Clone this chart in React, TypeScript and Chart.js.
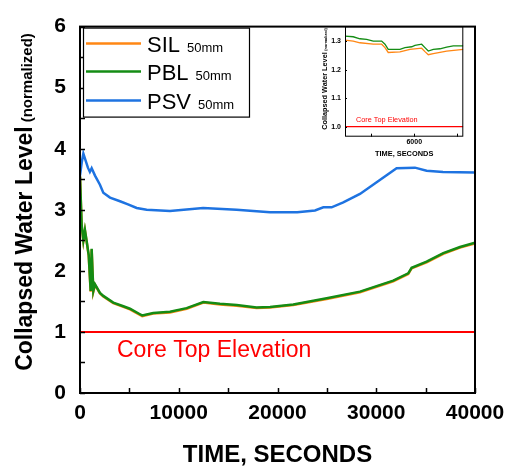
import React, { useEffect, useRef } from 'react';
import { Chart, registerables } from 'chart.js';
Chart.register(...registerables);

const FONT = '"Liberation Sans", Arial, Helvetica, sans-serif';

// ---------- main chart data ----------
const pblTime = [0, 170, 340, 500, 680, 880, 1080, 1180, 1350, 1520, 2020, 2360, 3370, 4390, 5060, 6070, 6300, 7420, 9110, 10800, 12490, 14170, 15870, 17890, 19240, 21600, 24980, 28350, 31720, 33240, 33580, 35100, 36790, 38480, 40000];
const pblLevel = [3.55, 2.75, 2.5, 2.67, 2.48, 2.26, 1.67, 2.36, 1.67, 1.78, 1.64, 1.59, 1.48, 1.42, 1.38, 1.29, 1.27, 1.31, 1.33, 1.39, 1.49, 1.46, 1.44, 1.4, 1.41, 1.45, 1.55, 1.66, 1.84, 1.96, 2.05, 2.15, 2.29, 2.39, 2.46];
const silTime = pblTime;
const silLevel = [3.54, 2.74, 2.49, 2.66, 2.47, 2.25, 1.66, 2.35, 1.66, 1.77, 1.63, 1.58, 1.47, 1.41, 1.37, 1.28, 1.26, 1.3, 1.32, 1.38, 1.48, 1.45, 1.43, 1.39, 1.4, 1.44, 1.54, 1.65, 1.83, 1.95, 2.04, 2.14, 2.28, 2.38, 2.45];
const psvTime = [0, 170, 340, 800, 1000, 1180, 1520, 2020, 2360, 3040, 4050, 4860, 5740, 6750, 9110, 12470, 15860, 19240, 22000, 23800, 24640, 25480, 26660, 28350, 30040, 32060, 33920, 35100, 36760, 40000];
const psvLevel = [3.56, 3.77, 3.92, 3.69, 3.62, 3.68, 3.56, 3.41, 3.28, 3.2, 3.14, 3.09, 3.03, 3.0, 2.98, 3.03, 3.0, 2.96, 2.96, 2.99, 3.04, 3.04, 3.12, 3.26, 3.45, 3.68, 3.69, 3.64, 3.62, 3.61];
const coreTime = [0, 40000];
const coreLevel = [1, 1];

const legendNames = ['SIL', 'PBL', 'PSV'];
const legendSuffix = '50mm';
const coreLabel = 'Core Top Elevation';
const yTitle = 'Collapsed Water Level';
const yTitleSmall = '(normalized)';
const xTitle = 'TIME, SECONDS';

// ---------- inset data ----------
const insetPblTime = [4388, 4581, 4737, 4893, 5047, 5242, 5319, 5395, 5667, 5784, 5940, 6016, 6172, 6249, 6326, 6442, 6598, 6753, 6907, 7140];
const insetPbl = [1.317, 1.315, 1.308, 1.306, 1.3, 1.3, 1.289, 1.271, 1.271, 1.277, 1.28, 1.285, 1.289, 1.277, 1.265, 1.271, 1.273, 1.279, 1.283, 1.283];
const insetSilTime = [4388, 4581, 4737, 5047, 5242, 5319, 5395, 5667, 5900, 6172, 6249, 6326, 6442, 6753, 7140];
const insetSil = [1.303, 1.3, 1.294, 1.289, 1.289, 1.277, 1.26, 1.262, 1.271, 1.275, 1.263, 1.252, 1.256, 1.265, 1.271];
const insetXTicks = [6000];
const insetYTicks = [1.0, 1.1, 1.2, 1.3];
const insetCoreTime = [4390, 7140];
const insetCoreLevel = [1, 1];

const ORANGE = 'rgb(255,135,20)';
const GREEN = 'rgb(20,140,20)';
const BLUE = 'rgb(30,115,225)';
const RED = 'rgb(255,0,0)';

const pts = (xs: number[], ys: number[]) => xs.map((x, i) => ({ x, y: ys[i] }));

function drawRotated(ctx: CanvasRenderingContext2D, bx: number, cy: number, parts: { text: string; font: string }[], gap: number) {
  let total = 0;
  const widths: number[] = [];
  parts.forEach((p) => {
    ctx.font = p.font;
    const w = ctx.measureText(p.text).width;
    widths.push(w);
    total += w;
  });
  total += gap * (parts.length - 1);
  ctx.save();
  ctx.translate(bx, cy + total / 2);
  ctx.rotate(-Math.PI / 2);
  ctx.textAlign = 'left';
  ctx.textBaseline = 'alphabetic';
  ctx.fillStyle = '#000';
  let cx = 0;
  parts.forEach((p, i) => {
    ctx.font = p.font;
    ctx.fillText(p.text, cx, 0);
    cx += widths[i] + gap;
  });
  ctx.restore();
}

const mainPlugin = {
  id: 'mainDecor',
  afterDraw(chart: any) {
    const { ctx, chartArea: a, scales } = chart;
    const xs = scales.x;
    const ys = scales.y;
    ctx.save();
    ctx.strokeStyle = '#000';
    ctx.lineWidth = 2;
    ctx.strokeRect(a.left, a.top, a.right - a.left, a.bottom - a.top);
    ctx.lineWidth = 1.5;
    ctx.beginPath();
    for (let v = 0; v <= 40000; v += 5000) {
      const px = Math.round(xs.getPixelForValue(v)) + 0.5;
      ctx.moveTo(px, a.bottom);
      ctx.lineTo(px, a.bottom - 5);
    }
    for (let v = 0; v <= 6; v += 0.5) {
      const py = Math.round(ys.getPixelForValue(v)) + 0.5;
      ctx.moveTo(a.left, py);
      ctx.lineTo(a.left + 5, py);
    }
    ctx.stroke();

    ctx.fillStyle = RED;
    ctx.font = `23px ${FONT}`;
    ctx.textAlign = 'left';
    ctx.textBaseline = 'alphabetic';
    ctx.fillText(coreLabel, a.left + 37, ys.getPixelForValue(1) + 25);

    ctx.fillStyle = '#000';
    ctx.font = `bold 24px ${FONT}`;
    ctx.textAlign = 'center';
    ctx.fillText(xTitle, (a.left + a.right) / 2, 462);

    drawRotated(ctx, 32, 202, [
      { text: yTitle, font: `bold 23px ${FONT}` },
      { text: yTitleSmall, font: `bold 15px ${FONT}` },
    ], 4);

    const lx = a.left + 3.5;
    const ly = a.top + 1.5;
    ctx.fillStyle = '#fff';
    ctx.fillRect(lx, ly, 166, 89);
    ctx.strokeStyle = '#000';
    ctx.lineWidth = 1.2;
    ctx.strokeRect(lx, ly, 166, 89);
    const colors = [ORANGE, GREEN, BLUE];
    const rows = [17, 45, 74];
    legendNames.forEach((name, i) => {
      const ry = a.top + rows[i];
      ctx.strokeStyle = colors[i];
      ctx.lineWidth = 2.5;
      ctx.beginPath();
      ctx.moveTo(a.left + 6, ry);
      ctx.lineTo(a.left + 61, ry);
      ctx.stroke();
      ctx.fillStyle = '#000';
      ctx.textAlign = 'left';
      ctx.font = `22px ${FONT}`;
      ctx.fillText(name, a.left + 67, ry + 8);
      const w = ctx.measureText(name).width;
      ctx.font = `13px ${FONT}`;
      ctx.fillText(legendSuffix, a.left + 67 + w + 7, ry + 8);
    });
    ctx.restore();
  },
};

const insetPlugin = {
  id: 'insetDecor',
  afterDraw(chart: any) {
    const { ctx, chartArea: a, scales } = chart;
    const xs = scales.x;
    const ys = scales.y;
    ctx.save();
    ctx.strokeStyle = '#000';
    ctx.lineWidth = 1;
    ctx.strokeRect(a.left + 0.5, a.top + 0.5, a.right - a.left - 1, a.bottom - a.top - 1);
    ctx.beginPath();
    for (let v = 5000; v <= 7000; v += 1000) {
      const px = Math.round(xs.getPixelForValue(v)) + 0.5;
      ctx.moveTo(px, a.bottom);
      ctx.lineTo(px, a.bottom - 3);
    }
    insetYTicks.forEach((v) => {
      const py = Math.round(ys.getPixelForValue(v)) + 0.5;
      ctx.moveTo(a.left, py);
      ctx.lineTo(a.left + 2, py);
    });
    ctx.stroke();

    ctx.fillStyle = RED;
    ctx.font = `7.3px ${FONT}`;
    ctx.textAlign = 'left';
    ctx.fillText(coreLabel, a.left + 11, ys.getPixelForValue(1) - 5);

    ctx.fillStyle = '#000';
    ctx.font = `bold 7.4px ${FONT}`;
    ctx.textAlign = 'center';
    ctx.fillText(xTitle, (a.left + a.right) / 2, 137.5);

    drawRotated(ctx, 27, 61, [
      { text: yTitle, font: `bold 7.3px ${FONT}` },
      { text: yTitleSmall, font: `bold 3.8px ${FONT}` },
    ], 1.5);
    ctx.restore();
  },
};

export default function App() {
  const mainRef = useRef<HTMLCanvasElement>(null);
  const insetRef = useRef<HTMLCanvasElement>(null);

  useEffect(() => {
    const tickFont = { family: FONT, size: 21, weight: 'bold' as const };
    const main = new Chart(mainRef.current!, {
      type: 'line',
      data: {
        datasets: [
          { label: 'Core', data: pts(coreTime, coreLevel), borderColor: RED, borderWidth: 2, pointRadius: 0, order: 3 },
          { label: 'PSV', data: pts(psvTime, psvLevel), borderColor: BLUE, borderWidth: 2.5, pointRadius: 0, order: 0 },
          { label: 'PBL', data: pts(pblTime, pblLevel), borderColor: GREEN, borderWidth: 2.5, pointRadius: 0, order: 1 },
          { label: 'SIL', data: pts(silTime, silLevel), borderColor: ORANGE, borderWidth: 2.5, pointRadius: 0, order: 2 },
        ],
      },
      options: {
        responsive: false,
        animation: false,
        events: [],
        layout: { padding: { top: 22, right: 39, left: 0, bottom: 0 } },
        plugins: { legend: { display: false }, tooltip: { enabled: false } },
        scales: {
          x: {
            type: 'linear', min: 0, max: 40000,
            ticks: { stepSize: 10000, font: tickFont, color: '#000', padding: 8, maxRotation: 0, callback: (v: any) => String(v) },
            grid: { display: false, drawTicks: false },
            border: { display: false },
            afterFit: (s: any) => { s.height = 73; },
          },
          y: {
            type: 'linear', min: 0, max: 6,
            ticks: { stepSize: 1, font: tickFont, color: '#000', padding: 14, callback: (v: any) => String(v) },
            grid: { display: false, drawTicks: false },
            border: { display: false },
            afterFit: (s: any) => { s.width = 80; },
          },
        },
      },
      plugins: [mainPlugin],
    } as any);

    const smallFont = { family: FONT, size: 7, weight: 'bold' as const };
    const inset = new Chart(insetRef.current!, {
      type: 'line',
      data: {
        datasets: [
          { label: 'Core', data: pts(insetCoreTime, insetCoreLevel), borderColor: RED, borderWidth: 1.2, pointRadius: 0, order: 3 },
          { label: 'PBL', data: pts(insetPblTime, insetPbl), borderColor: GREEN, borderWidth: 1.3, pointRadius: 0, order: 1 },
          { label: 'SIL', data: pts(insetSilTime, insetSil), borderColor: ORANGE, borderWidth: 1.3, pointRadius: 0, order: 2 },
        ],
      },
      options: {
        responsive: false,
        animation: false,
        events: [],
        layout: { padding: { top: 7, right: 6.7, left: 0, bottom: 0 } },
        plugins: { legend: { display: false }, tooltip: { enabled: false } },
        scales: {
          x: {
            type: 'linear', min: 4390, max: 7140,
            afterBuildTicks: (s: any) => { s.ticks = insetXTicks.map((value) => ({ value })); },
            ticks: { font: smallFont, color: '#000', padding: 1, maxRotation: 0, callback: (v: any) => String(v) },
            grid: { display: false, drawTicks: false },
            border: { display: false },
            afterFit: (s: any) => { s.height = 26.3; },
          },
          y: {
            type: 'linear', min: 0.965, max: 1.352,
            afterBuildTicks: (s: any) => { s.ticks = insetYTicks.map((value) => ({ value })); },
            ticks: { font: smallFont, color: '#000', padding: 4, callback: (v: any) => Number(v).toFixed(1) },
            grid: { display: false, drawTicks: false },
            border: { display: false },
            afterFit: (s: any) => { s.width = 45; },
          },
        },
      },
      plugins: [insetPlugin],
    } as any);

    return () => {
      main.destroy();
      inset.destroy();
    };
  }, []);

  return (
    <div style={{ position: 'absolute', left: 0, top: 0, width: 514, height: 466, background: '#fff' }}>
      <canvas ref={mainRef} width={514} height={466} style={{ position: 'absolute', left: 0, top: 0 }} />
      <canvas ref={insetRef} width={170} height={145} style={{ position: 'absolute', left: 300, top: 18 }} />
    </div>
  );
}
